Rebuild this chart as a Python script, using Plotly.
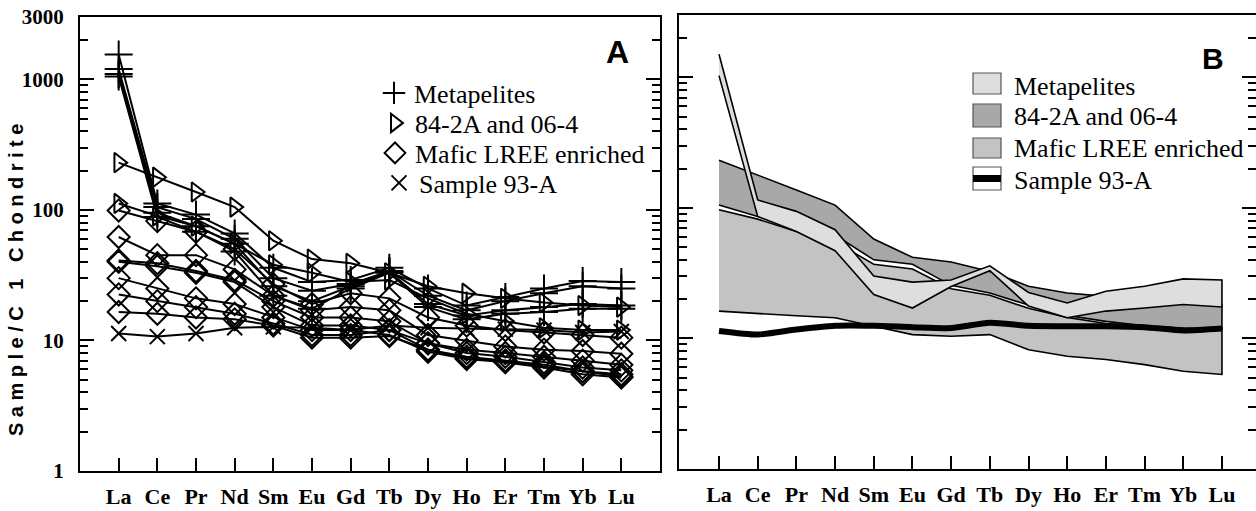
import plotly.graph_objects as go

ELEMENTS = ["La", "Ce", "Pr", "Nd", "Sm", "Eu", "Gd", "Tb", "Dy", "Ho", "Er", "Tm", "Yb", "Lu"]

# ---- Panel A: individual samples (chondrite-normalised) ----
METAPELITES = [
    [1550, 112, 92, 66, 36, 28, 29, 36, 25, 18.5, 21.5, 25, 28.5, 28],
    [1200, 105, 85, 60, 30, 24, 27, 34, 22, 17, 20, 23, 26, 25],
    [1100, 95, 75, 55, 26, 20, 26, 33.5, 19, 15.5, 17, 18, 19, 18.5],
    [1050, 88, 68, 48, 22, 17.5, 25, 33, 18, 14.5, 16, 16.5, 17.5, 17.5],
]
S84_06 = [
    [230, 178, 137, 105, 58, 42, 39, 33, 26, 23, 21, 19.5, 18.5, 18],
    [112, 90, 75, 55, 38, 33, 28, 29, 21, 16, 14, 12.5, 12, 12],
]
MAFIC = [
    [99, 82, 68, 50, 27, 19, 23, 21, 15, 13, 12, 11.5, 11, 10.5],
    [62, 45, 45, 35, 22, 17, 18, 17, 11, 10, 9, 8.5, 8.3, 7.9],
    [41, 39, 34, 29, 20, 15, 15, 14, 9.5, 8, 7.5, 6.8, 6.2, 5.9],
    [40, 37, 33, 28, 18, 13, 13, 12, 8.5, 7.5, 7, 6.3, 5.8, 5.5],
    [30, 25, 21, 19, 15, 12, 12, 11, 8.2, 7.2, 6.8, 6.2, 5.5, 5.2],
    [22.5, 20, 18, 16, 13.5, 11, 11, 12, 9.5, 8.5, 8, 7.5, 7, 6.5],
    [16.5, 16, 15, 14.5, 13, 10.5, 10.5, 10.8, 8.5, 7.3, 7, 6.5, 5.8, 5.3],
]
SAMPLE_93A = [11.3, 10.7, 11.3, 12.5, 12.7, 12.5, 12, 13, 12.5, 12.3, 12.2, 12, 11.5, 11.7]

# ---- Panel B: fields (upper / lower envelopes) ----
MP_UPPER = [1500, 115, 94, 68, 30, 27, 28, 36, 22.5, 18.7, 23, 25.1, 28.6, 28]
MP_LOWER = [1030, 86, 66, 47, 21.7, 17.1, 25, 33, 17.7, 14.4, 16.2, 17.1, 18.2, 17.4]
T_UPPER = [232, 179, 137, 105, 57.7, 41.8, 38.5, 32.6, 25.1, 22.3, 21, 19.5, 18.5, 18]
T_LOWER = [105, 86, 72, 62, 40, 37, 25.5, 22.3, 18, 15, 13.5, 12.5, 12, 11.8]
MF_UPPER = [96.6, 82, 66, 55, 37, 34, 24, 21.4, 17, 14.5, 13, 12.5, 12, 12]
MF_LOWER = [16.2, 15.5, 14.9, 14.4, 12.4, 10.7, 10.4, 10.7, 8.2, 7.3, 6.9, 6.3, 5.6, 5.3]
S93_B = [11.4, 10.7, 11.7, 12.5, 12.5, 12.2, 12, 13.2, 12.5, 12.4, 12.4, 12.2, 11.5, 11.9]

LEGEND_NAMES = ["Metapelites", "84-2A and 06-4", "Mafic LREE enriched", "Sample 93-A"]
FIELD_COLORS = ["#dedede", "#a8a8a8", "#c3c3c3"]

W, H = 1256, 511
X = list(range(len(ELEMENTS)))

fig = go.Figure()

LINE_W = 2
groups = [
    (METAPELITES, "cross-thin-open", 20),
    (S84_06, "triangle-right-open", 17),
    (MAFIC, "diamond-open", 17),
    ([SAMPLE_93A], "x-thin-open", 15),
]
for series, sym, size in groups:
    for vals in series:
        fig.add_trace(go.Scatter(
            x=X, y=vals, mode="lines+markers", xaxis="x", yaxis="y",
            line=dict(color="black", width=LINE_W),
            marker=dict(symbol=sym, size=size, color="black",
                        line=dict(color="black", width=LINE_W)),
            showlegend=False, hoverinfo="skip"))

# legend entries for panel A (marker only), one legend per row
LEG_IDS = ["legend", "legend2", "legend3", "legend4"]
for (series, sym, size), name, lid in zip(groups, LEGEND_NAMES, LEG_IDS):
    fig.add_trace(go.Scatter(
        x=[None], y=[None], mode="markers", name=name, xaxis="x", yaxis="y",
        legend=lid,
        marker=dict(symbol=sym, size=size, color="black",
                    line=dict(color="black", width=2)),
        showlegend=True))

# ---- Panel B fields ----
def field(upper, lower, color):
    xs = X + X[::-1]
    ys = list(upper) + list(lower)[::-1]
    fig.add_trace(go.Scatter(
        x=xs, y=ys, mode="lines", fill="toself", fillcolor=color,
        line=dict(color="black", width=1.6), xaxis="x2", yaxis="y2",
        showlegend=False, hoverinfo="skip"))

field(MF_UPPER, MF_LOWER, FIELD_COLORS[2])
field(T_UPPER, T_LOWER, FIELD_COLORS[1])
field(MP_UPPER, MP_LOWER, FIELD_COLORS[0])
fig.add_trace(go.Scatter(
    x=X, y=S93_B, mode="lines", line=dict(color="black", width=6, shape="spline", smoothing=0.6),
    xaxis="x2", yaxis="y2", showlegend=False, hoverinfo="skip"))

# ---- axes ----
major = [1, 10, 100, 1000, 3000]
minor_vals = [m * d for d in (1, 10, 100) for m in range(2, 10)] + [2000]
SERIF = "Liberation Serif, Times New Roman, serif"
tickfont_y = dict(family=SERIF, size=21, color="black", weight="bold")
tickfont_x = dict(family=SERIF, size=22, color="black", weight="bold")

def yaxis_cfg(dom, labels, anchor):
    return dict(
        type="log", range=[0, 3.4771], domain=dom, anchor=anchor, automargin=False,
        tickmode="array", tickvals=major, ticktext=[str(v) for v in major],
        showticklabels=labels, tickfont=tickfont_y, ticks="inside", ticklen=14,
        tickwidth=2, tickcolor="black", ticklabelstandoff=10,
        minor=dict(tickmode="array", tickvals=minor_vals, ticks="inside",
                   ticklen=8, tickwidth=2, tickcolor="black", showgrid=False),
        showline=True, linewidth=2, linecolor="black", mirror="allticks",
        showgrid=False, zeroline=False)

def xaxis_cfg(dom, rng, anchor):
    return dict(
        domain=dom, range=rng, anchor=anchor, automargin=False,
        tickmode="array", tickvals=X,
        ticktext=ELEMENTS, tickfont=tickfont_x, ticks="inside", ticklen=13,
        tickwidth=2, tickcolor="black", ticklabelstandoff=5,
        showline=True, linewidth=2, linecolor="black", mirror=True,
        showgrid=False, zeroline=False)

leg_font = dict(family=SERIF, size=26, color="black")
leg_rows = [(374, 93), (375, 123), (375, 153), (379, 183)]
legends = {}
for lid, (lx, ly) in zip(LEG_IDS, leg_rows):
    legends[lid] = dict(x=lx / W, y=1 - ly / H, xanchor="left", yanchor="middle",
                        xref="paper", yref="paper",
                        bgcolor="rgba(0,0,0,0)", borderwidth=0, font=leg_font,
                        itemsizing="trace")

fig.update_layout(
    width=W, height=H, margin=dict(l=0, r=0, t=0, b=0, autoexpand=False),
    paper_bgcolor="white", plot_bgcolor="white",
    xaxis=xaxis_cfg([80 / W, 660 / W], [-1, 14], "y"),
    yaxis=yaxis_cfg([1 - 471 / H, 1 - 17 / H], True, "x"),
    xaxis2=xaxis_cfg([679 / W, 1.0], [-1.034, 13.88], "y2"),
    yaxis2=yaxis_cfg([1 - 469 / H, 1 - 15 / H], False, "x2"),
    showlegend=True,
    **legends,
)

ann = []
ann.append(dict(x=16 / W, y=1 - 277 / H, xref="paper", yref="paper", text="Sample/C 1 Chondrite",
                textangle=-90, showarrow=False, xanchor="center", yanchor="middle",
                font=dict(family="Liberation Sans", size=20, color="black", weight="bold")))
ann.append(dict(x=617 / W, y=1 - 52 / H, xref="paper", yref="paper", text="A", showarrow=False,
                xanchor="center", yanchor="middle",
                font=dict(family="Liberation Sans", size=32, color="black", weight="bold")))
ann.append(dict(x=1213 / W, y=1 - 58 / H, xref="paper", yref="paper", text="B", showarrow=False,
                xanchor="center", yanchor="middle",
                font=dict(family="Liberation Sans", size=30, color="black", weight="bold")))

# ---- Panel B legend (drawn swatches) ----
legB_rows = [(73, 94), (104, 127), (138, 158), (167, 190)]
text_y = [86, 116, 149, 180]
shapes = []
for i, ((y0, y1), ty, name) in enumerate(zip(legB_rows, text_y, LEGEND_NAMES)):
    fillc = FIELD_COLORS[i] if i < 3 else "white"
    shapes.append(dict(type="rect", xref="paper", yref="paper",
                       x0=973 / W, x1=1001 / W, y0=1 - y1 / H, y1=1 - y0 / H,
                       fillcolor=fillc, line=dict(color="#555555", width=1.2)))
    if i == 3:
        mid = (y0 + y1) / 2
        shapes.append(dict(type="rect", xref="paper", yref="paper",
                           x0=973 / W, x1=1001 / W, y0=1 - (mid + 3.5) / H, y1=1 - (mid - 3.5) / H,
                           fillcolor="black", line=dict(width=0)))
    ann.append(dict(x=1012 / W, y=1 - ty / H, xref="paper", yref="paper", text=name,
                    showarrow=False, xanchor="left", yanchor="middle",
                    font=dict(family=SERIF, size=26, color="black")))

fig.update_layout(annotations=ann, shapes=shapes)

post = """
document.documentElement.style.margin = '0';
document.body.style.margin = '0';
document.body.style.padding = '0';
document.body.style.overflow = 'hidden';
document.querySelectorAll('.annotation-text').forEach(function(t){
  if (t.textContent.indexOf('Chondrite') >= 0) { t.style.letterSpacing = '5.5px'; }
});
"""
fig.write_html("out.html", post_script=post, config={"displayModeBar": False})
